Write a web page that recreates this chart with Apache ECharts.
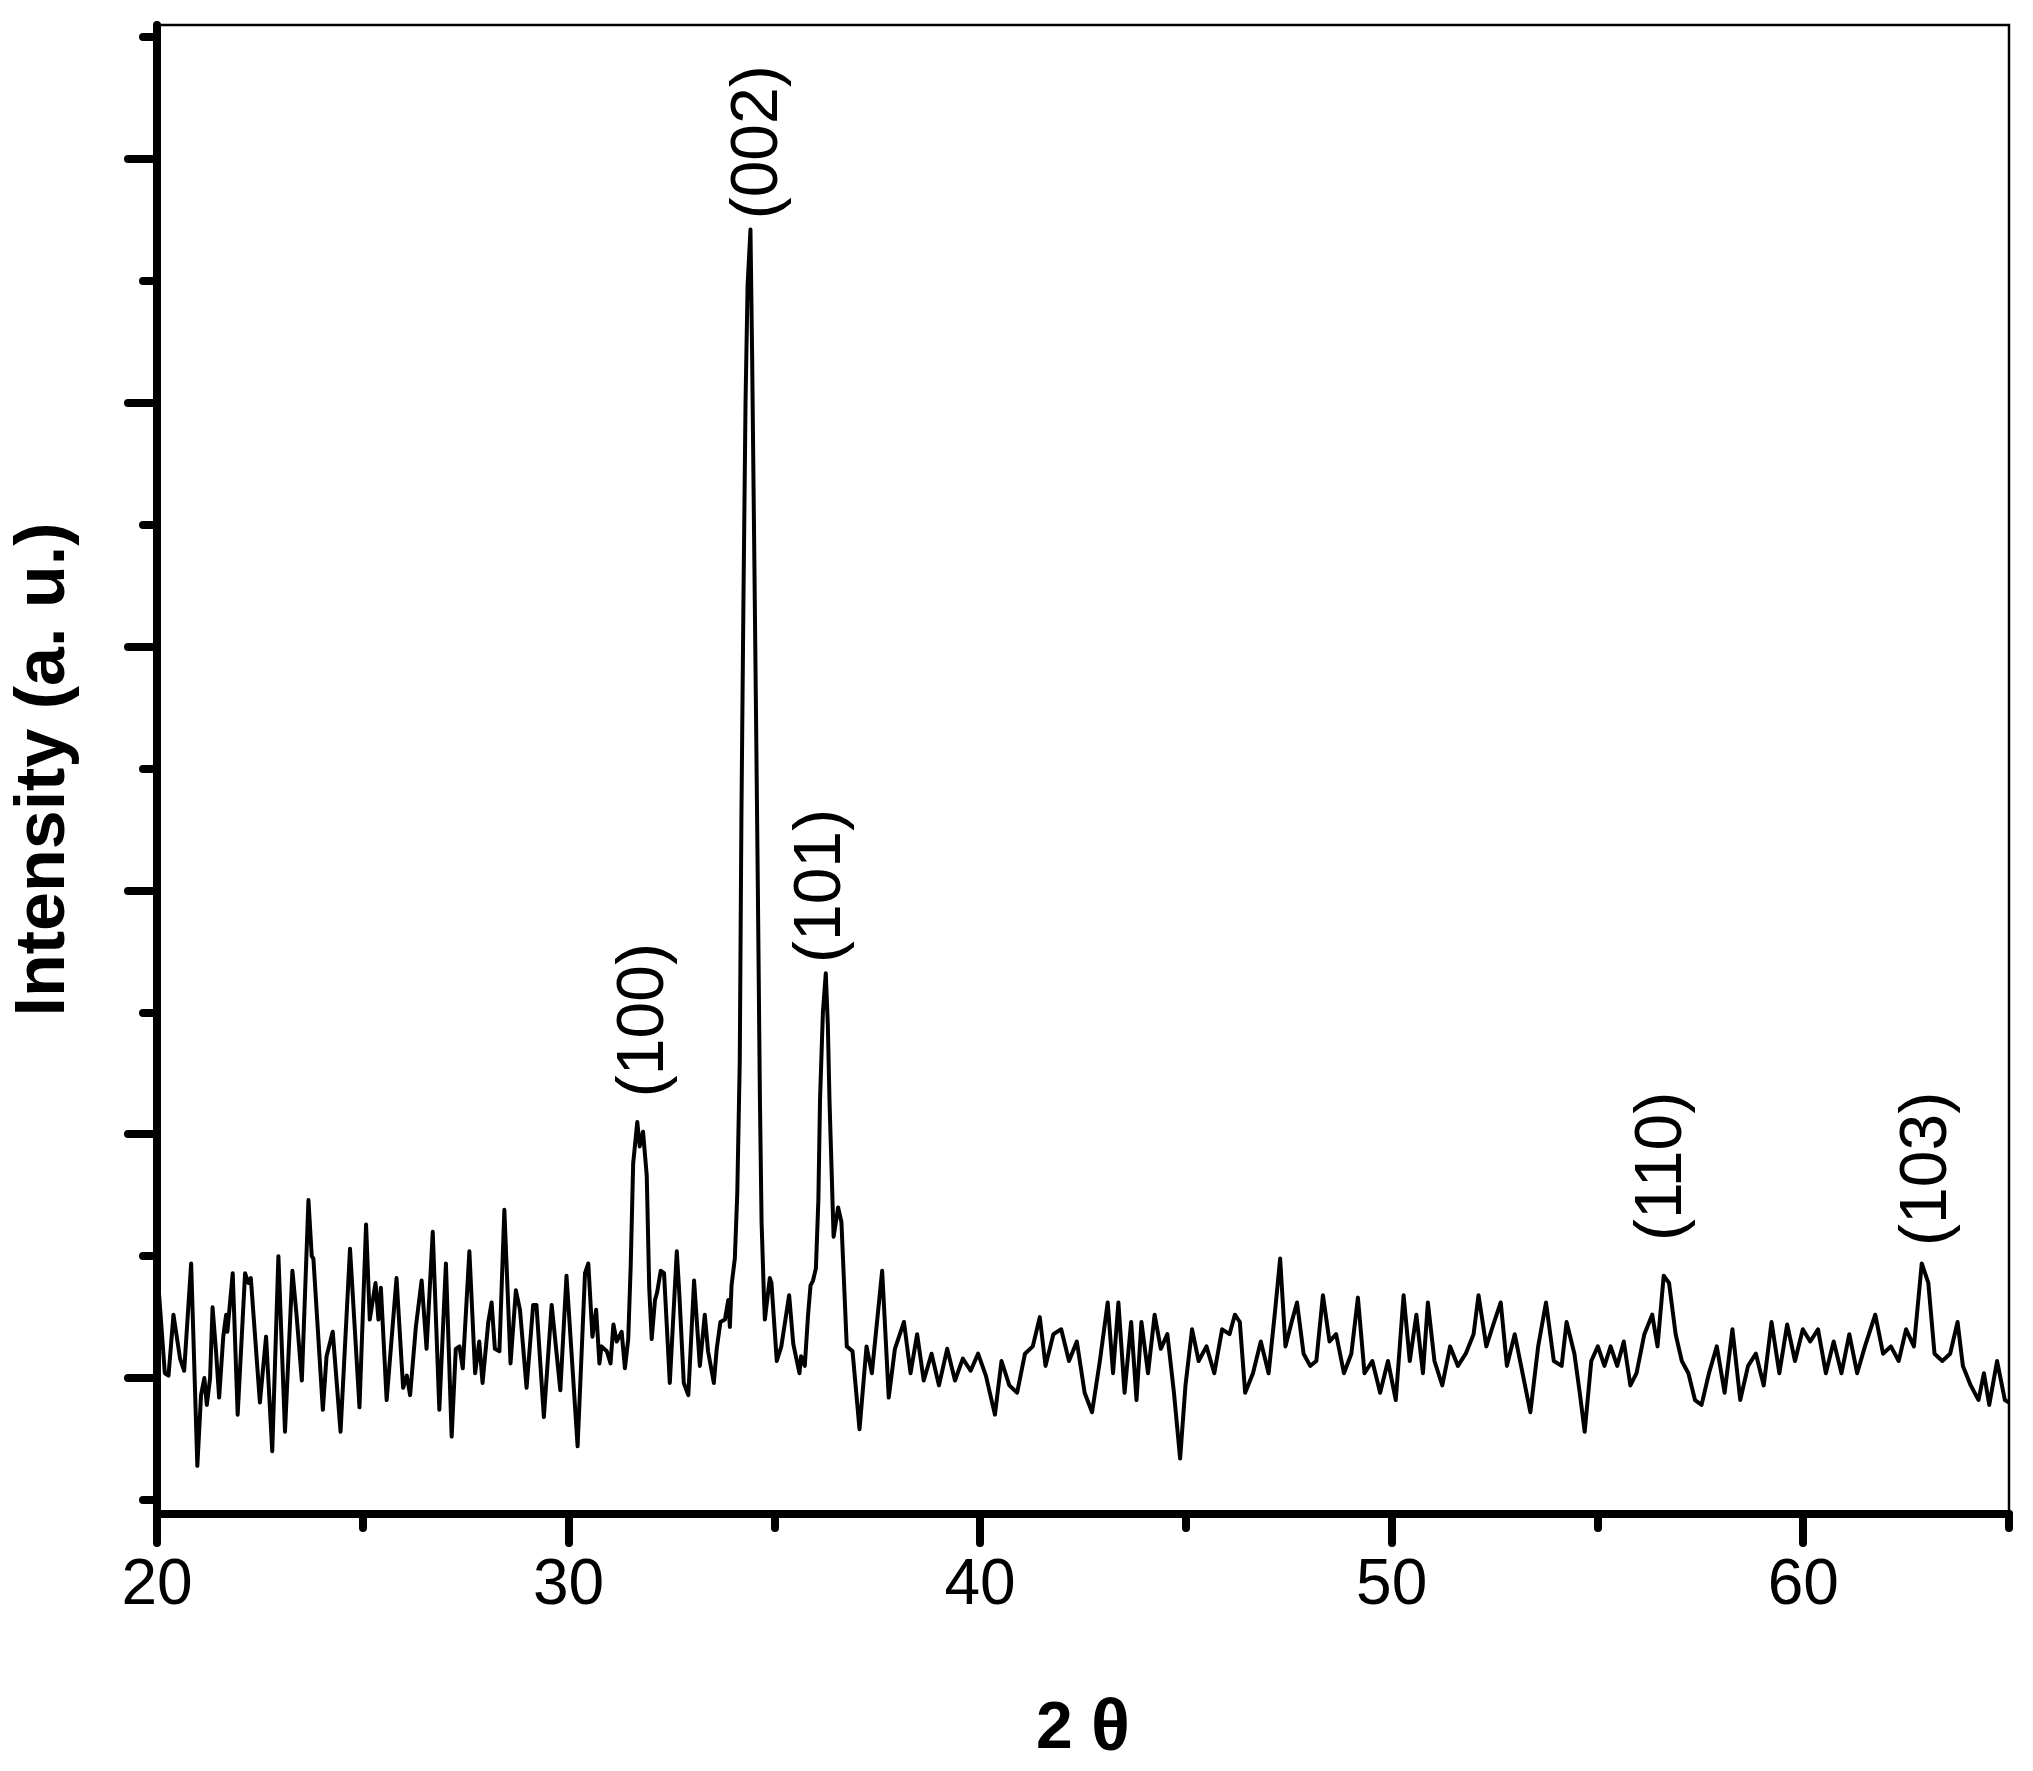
<!DOCTYPE html>
<html>
<head>
<meta charset="utf-8">
<script src="https://cdn.jsdelivr.net/npm/echarts@6/dist/echarts.min.js"></script>
<style>
html,body{margin:0;padding:0;background:#fff;}
#chart{width:2033px;height:1771px;}
</style>
</head>
<body>
<div id="chart"></div>
<script>
const twoTheta = [
20.00,20.19,20.28,20.40,20.56,20.66,20.83,20.98,21.07,21.15,21.21,21.29,21.35,21.43,21.51,21.61,21.68,21.71,21.84,21.96,
22.14,22.22,22.28,22.50,22.65,22.80,22.95,23.11,23.29,23.39,23.52,23.68,23.76,23.80,24.03,24.12,24.27,24.46,24.69,24.92,
25.08,25.17,25.31,25.38,25.44,25.58,25.82,25.98,26.07,26.15,26.29,26.43,26.55,26.70,26.86,27.02,27.16,27.26,27.35,27.43,
27.59,27.73,27.83,27.91,28.05,28.13,28.21,28.32,28.44,28.59,28.72,28.82,28.98,29.14,29.22,29.40,29.59,29.80,29.95,30.22,
30.40,30.48,30.58,30.67,30.75,30.80,30.93,31.02,31.09,31.17,31.29,31.37,31.45,31.51,31.57,31.67,31.73,31.81,31.90,31.96,
32.02,32.10,32.15,32.24,32.32,32.46,32.63,32.69,32.80,32.91,33.05,33.19,33.31,33.39,33.53,33.60,33.69,33.80,33.88,33.92,
33.96,34.04,34.10,34.16,34.20,34.25,34.30,34.35,34.42,34.46,34.50,34.55,34.60,34.65,34.69,34.75,34.77,34.89,34.93,35.06,
35.17,35.36,35.46,35.61,35.65,35.74,35.82,35.88,35.94,36.01,36.07,36.11,36.18,36.25,36.30,36.34,36.44,36.55,36.63,36.76,
36.90,37.07,37.24,37.37,37.62,37.78,37.93,38.15,38.31,38.47,38.63,38.82,39.00,39.20,39.39,39.58,39.77,39.95,40.14,40.36,
40.52,40.71,40.90,41.09,41.28,41.45,41.59,41.78,41.97,42.16,42.35,42.54,42.72,42.91,43.10,43.23,43.36,43.51,43.67,43.80,
43.92,44.08,44.24,44.39,44.55,44.71,44.86,44.99,45.15,45.31,45.50,45.69,45.88,46.06,46.19,46.31,46.44,46.63,46.82,47.01,
47.17,47.29,47.42,47.57,47.70,47.86,48.02,48.17,48.33,48.49,48.65,48.84,49.02,49.18,49.34,49.53,49.72,49.91,50.10,50.29,
50.44,50.60,50.76,50.88,51.04,51.23,51.42,51.61,51.80,51.99,52.11,52.30,52.49,52.65,52.80,52.99,53.18,53.37,53.56,53.75,
53.94,54.13,54.25,54.44,54.57,54.69,54.85,55.01,55.17,55.32,55.48,55.64,55.80,55.95,56.14,56.33,56.46,56.61,56.74,56.90,
57.05,57.21,57.37,57.53,57.71,57.90,58.09,58.28,58.47,58.66,58.85,59.04,59.23,59.42,59.61,59.80,59.99,60.17,60.36,60.55,
60.74,60.93,61.12,61.31,61.50,61.75,61.94,62.13,62.32,62.50,62.69,62.88,63.04,63.19,63.38,63.57,63.75,63.88,64.07,64.26,
64.39,64.52,64.71,64.90,65.00
];
const intensity = [
146,102,101,126,108,103,147,64,93,100,89,100,129,112,92,117,126,119,143,85,
143,139,141,90,117,70,150,78,144,126,99,173,150,149,87,109,119,78,153,88,
163,124,139,124,137,91,141,96,101,93,121,140,112,160,87,147,76,112,113,104,
152,102,115,98,123,131,112,111,169,106,136,128,96,130,130,84,130,95,142,72,
143,147,117,128,106,113,111,106,122,115,119,104,116,146,188,205,195,201,183,137,
116,132,135,144,143,98,152,135,98,93,140,105,126,111,98,112,123,124,132,121,
138,149,176,230,330,420,500,548,571,520,458,380,300,214,164,132,124,141,139,107,
113,134,114,102,109,105,126,138,140,145,173,214,250,266,245,214,158,170,164,113,
111,79,113,102,144,92,112,123,102,118,99,110,97,112,99,108,103,110,101,85,
107,97,94,110,113,125,105,118,120,107,115,94,86,107,131,102,131,94,123,91,
123,102,126,112,118,94,67,97,120,107,113,102,120,118,126,123,94,102,115,102,
128,149,113,123,131,110,105,107,134,115,118,102,110,133,102,107,94,107,91,134,
107,126,102,131,107,97,113,105,110,118,134,113,123,131,105,118,102,86,113,131,
107,105,123,110,94,78,107,113,105,113,105,115,97,102,118,126,113,142,139,118,
107,102,91,89,102,113,94,120,91,105,110,97,123,102,122,107,120,115,120,102,
115,102,118,102,113,126,110,113,107,120,113,147,139,110,107,110,123,105,97,91,
102,89,107,91,90
];
// peak annotations: Miller indices, label anchor (2θ, intensity at label start)
const peakLabels = ['(100)','(002)','(101)','(110)','(103)'];
const peakLabelTheta = [31.86, 34.64, 36.16, 56.59, 63.04];
const peakLabelIntensity = [215, 575, 270, 156, 154];
// axis ticks
const xMajorTicks = [20, 30, 40, 50, 60];
const xMinorTicks = [25, 35, 45, 55, 65];
const yMajorTicks = [100, 200, 300, 400, 500, 600];
const yMinorTicks = [50, 150, 250, 350, 450, 550, 650];

const FONT = "'Liberation Sans', Arial, Helvetica, sans-serif";
const lineData = twoTheta.map((t, i) => [t, intensity[i]]);
const labelData = peakLabels.map((n, i) => ({ name: n, value: [peakLabelTheta[i], peakLabelIntensity[i]] }));

const chart = echarts.init(document.getElementById('chart'), null, { renderer: 'canvas' });
const tickStyle = { color: '#000', width: 8, cap: 'round' };
chart.setOption({
  animation: false,
  backgroundColor: '#fff',
  grid: { left: 157, right: 24, top: 25, bottom: 256, show: true, borderColor: '#000', borderWidth: 2.5, backgroundColor: 'transparent' },
  xAxis: [
    {
      type: 'value', min: 20, max: 65, position: 'bottom',
      axisLine: { show: true, onZero: false, lineStyle: { color: '#000', width: 8, cap: 'round' } },
      axisTick: { show: true, customValues: xMajorTicks, length: 29, lineStyle: tickStyle },
      axisLabel: { show: true, customValues: xMajorTicks, fontSize: 64, color: '#000', margin: 40, fontFamily: FONT },
      splitLine: { show: false },
      name: '{a|2} {b|θ}', nameLocation: 'middle', nameGap: 180,
      nameTextStyle: {
        fontSize: 66, fontWeight: 'bold', color: '#000', fontFamily: FONT,
        rich: {
          a: { fontSize: 66, fontWeight: 'bold', color: '#000', fontFamily: FONT },
          b: { fontSize: 72, fontWeight: 'bold', color: '#000', fontFamily: FONT }
        }
      }
    },
    {
      type: 'value', min: 20, max: 65, position: 'bottom',
      axisLine: { show: false, onZero: false },
      axisTick: { show: true, customValues: xMinorTicks, length: 14, lineStyle: tickStyle },
      axisLabel: { show: false },
      splitLine: { show: false }
    }
  ],
  yAxis: [
    {
      type: 'value', min: 44.26, max: 654.9, position: 'left',
      axisLine: { show: true, onZero: false, lineStyle: { color: '#000', width: 8, cap: 'round' } },
      axisTick: { show: true, customValues: yMajorTicks, length: 29, lineStyle: tickStyle },
      axisLabel: { show: false },
      splitLine: { show: false },
      name: 'Intensity (a. u.)', nameLocation: 'middle', nameGap: 77,
      nameTextStyle: { fontSize: 70, fontWeight: 'bold', color: '#000', fontFamily: FONT }
    },
    {
      type: 'value', min: 44.26, max: 654.9, position: 'left',
      axisLine: { show: false, onZero: false },
      axisTick: { show: true, customValues: yMinorTicks, length: 14, lineStyle: tickStyle },
      axisLabel: { show: false },
      splitLine: { show: false }
    }
  ],
  series: [
    {
      type: 'line', xAxisIndex: 0, yAxisIndex: 0, data: lineData,
      showSymbol: false, symbol: 'none', smooth: false, silent: true,
      lineStyle: { color: '#000', width: 4, join: 'round' }
    },
    {
      type: 'scatter', xAxisIndex: 0, yAxisIndex: 0, data: labelData,
      symbolSize: 1, itemStyle: { color: '#fff', opacity: 0 }, silent: true,
      label: {
        show: true, position: [0, 0], rotate: 90, align: 'left', verticalAlign: 'middle',
        formatter: (p) => p.name, fontSize: 66, color: '#000', opacity: 1,
        textBorderWidth: 0, fontFamily: FONT
      }
    }
  ]
});
</script>
</body>
</html>
